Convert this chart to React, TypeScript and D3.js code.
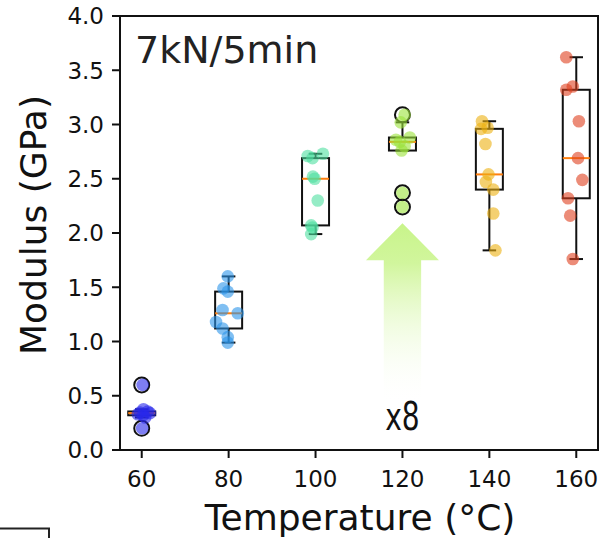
import React from "react";
import * as d3 from "d3";

// ---- data ----
const temps = [60, 80, 100, 120, 140, 160];
const modulus60 = [0.6, 0.375, 0.355, 0.345, 0.34, 0.33, 0.32, 0.3, 0.2];
const modulus80 = [1.6, 1.49, 1.46, 1.29, 1.26, 1.18, 1.12, 1.04, 0.99];
const modulus100 = [2.73, 2.71, 2.69, 2.52, 2.5, 2.3, 2.07, 2.05, 1.99];
const modulus120 = [3.09, 3.02, 2.88, 2.86, 2.84, 2.8, 2.76, 2.37, 2.24];
const modulus140 = [3.03, 2.97, 2.96, 2.82, 2.54, 2.47, 2.4, 2.18, 1.84];
const modulus160 = [3.62, 3.35, 3.32, 3.03, 2.69, 2.49, 2.32, 2.16, 1.76];
// horizontal jitter of each point, in °C
const jitter60 = [0.2, 0.4, 1.4, -0.4, 1.9, -0.9, 0.3, 0.8, 0.1];
const jitter80 = [-0.2, -1.2, -0.2, -1.4, 2.1, -2.9, -1.4, -0.2, -0.2];
const jitter100 = [1.7, -1.8, -0.7, -0.6, -0.2, 0.5, -1.0, -0.7, -1.0];
const jitter120 = [0.5, -0.4, 1.7, -1.5, -0.6, 0.5, -0.2, 0.0, 0.0];
const jitter140 = [-1.7, -0.4, -1.9, -0.9, -0.2, -0.8, 0.9, 0.9, 1.4];
const jitter160 = [-2.3, -0.8, -2.3, 0.6, 0.4, 1.4, -1.9, -1.4, -0.8];
const groupColors = ["#2828eb", "#2b95ea", "#4ee0a0", "#9be33a", "#ecb010", "#e0401e"];
const yTicks = [0, 0.5, 1, 1.5, 2, 2.5, 3, 3.5, 4];
const xTicks = [60, 80, 100, 120, 140, 160];
const titleText = "7kN/5min";
const factorText = "x8";

const groups = [
  { t: temps[0], v: modulus60, j: jitter60, c: groupColors[0] },
  { t: temps[1], v: modulus80, j: jitter80, c: groupColors[1] },
  { t: temps[2], v: modulus100, j: jitter100, c: groupColors[2] },
  { t: temps[3], v: modulus120, j: jitter120, c: groupColors[3] },
  { t: temps[4], v: modulus140, j: jitter140, c: groupColors[4] },
  { t: temps[5], v: modulus160, j: jitter160, c: groupColors[5] },
];

const W = 600, H = 538;
const left = 120, right = 598, top = 16, bottom = 450;

export default function App() {
  const x = d3.scaleLinear().domain([55, 165]).range([left, right]);
  const y = d3.scaleLinear().domain([0, 4]).range([bottom, top]);
  const boxW = 27;
  const ink = "#111";

  const stats = groups.map((g) => {
    const s = [...g.v].sort(d3.ascending);
    const q1 = d3.quantile(s, 0.25)!;
    const med = d3.quantile(s, 0.5)!;
    const q3 = d3.quantile(s, 0.75)!;
    const iqr = q3 - q1;
    const lo = d3.min(s.filter((d) => d >= q1 - 1.5 * iqr))!;
    const hi = d3.max(s.filter((d) => d <= q3 + 1.5 * iqr))!;
    const fl = s.filter((d) => d < lo || d > hi);
    return { ...g, q1, med, q3, lo, hi, fl };
  });

  // arrow annotation in data coordinates
  const ax = 120;
  const arrowPts: [number, number][] = [
    [ax, 2.09],
    [ax + 8.4, 1.75],
    [ax + 4.3, 1.75],
    [ax + 4.3, 0.42],
    [ax - 4.3, 0.42],
    [ax - 4.3, 1.75],
    [ax - 8.4, 1.75],
  ];
  const arrowPath = d3.line()(arrowPts.map(([a, b]) => [x(a), y(b)]))! + "Z";

  return (
    <svg
      width={W}
      height={H}
      style={{ position: "absolute", left: 0, top: 0, background: "#fff" }}
      fontFamily="DejaVu Sans, sans-serif"
    >
      <defs>
        <linearGradient id="arrowGrad" x1="0" y1={y(2.09)} x2="0" y2={y(0.42)} gradientUnits="userSpaceOnUse">
          <stop offset="0" stopColor="#c8f48a" stopOpacity={1} />
          <stop offset="0.22" stopColor="#cdf594" stopOpacity={0.92} />
          <stop offset="1" stopColor="#ffffff" stopOpacity={0} />
        </linearGradient>
      </defs>

      {/* arrow */}
      <path d={arrowPath} fill="url(#arrowGrad)" />
      <text
        transform={`translate(${x(120)},${y(0.18)}) scale(0.74,1.05)`}
        textAnchor="middle"
        fontSize={38}
        fill="#111"
      >
        {factorText}
      </text>

      {/* boxes */}
      {stats.map((s, i) => {
        const cx = x(s.t);
        return (
          <g key={"b" + i} stroke={ink} strokeWidth={2} fill="none">
            <line x1={cx} x2={cx} y1={y(s.q3)} y2={y(s.hi)} />
            <line x1={cx} x2={cx} y1={y(s.q1)} y2={y(s.lo)} />
            <line x1={cx - boxW / 4} x2={cx + boxW / 4} y1={y(s.hi)} y2={y(s.hi)} />
            <line x1={cx - boxW / 4} x2={cx + boxW / 4} y1={y(s.lo)} y2={y(s.lo)} />
            <rect x={cx - boxW / 2} y={y(s.q3)} width={boxW} height={y(s.q1) - y(s.q3)} />
            <line x1={cx - boxW / 2} x2={cx + boxW / 2} y1={y(s.med)} y2={y(s.med)} stroke="#ff7f0e" />
            {s.fl.map((f, k) => (
              <circle key={k} cx={cx} cy={y(f)} r={7.5} />
            ))}
          </g>
        );
      })}

      {/* points */}
      {stats.map((s, i) => (
        <g key={"p" + i} fill={s.c} fillOpacity={0.6}>
          {s.v.map((v, k) => (
            <circle key={k} cx={x(s.t + s.j[k])} cy={y(v)} r={6.3} />
          ))}
        </g>
      ))}

      {/* spines */}
      <rect x={left} y={top} width={right - left} height={bottom - top} fill="none" stroke={ink} strokeWidth={2} />

      {/* y ticks */}
      {yTicks.map((t) => (
        <g key={"y" + t}>
          <line x1={left - 8} x2={left} y1={y(t)} y2={y(t)} stroke={ink} strokeWidth={2} />
          <text x={left - 16} y={y(t)} dy="0.36em" textAnchor="end" fontSize={23} fill="#111">
            {d3.format(".1f")(t)}
          </text>
        </g>
      ))}
      {/* x ticks */}
      {xTicks.map((t) => (
        <g key={"x" + t}>
          <line x1={x(t)} x2={x(t)} y1={bottom} y2={bottom + 8} stroke={ink} strokeWidth={2} />
          <text x={x(t)} y={bottom + 37} textAnchor="middle" fontSize={23} fill="#111">
            {t}
          </text>
        </g>
      ))}

      {/* labels */}
      <text x={360} y={530} textAnchor="middle" fontSize={36} fill="#111">
        Temperature (°C)
      </text>
      <text transform={`translate(46,${(top + bottom) / 2 - 8}) rotate(-90)`} textAnchor="middle" fontSize={36} fill="#111">
        Modulus (GPa)
      </text>
      <text x={left + 15} y={63} fontSize={38} fill="#222">
        {titleText}
      </text>

      {/* cut-off legend frame */}
      <path d="M0,528.5 H49 V538" fill="none" stroke="#222" strokeWidth={2} />
    </svg>
  );
}
